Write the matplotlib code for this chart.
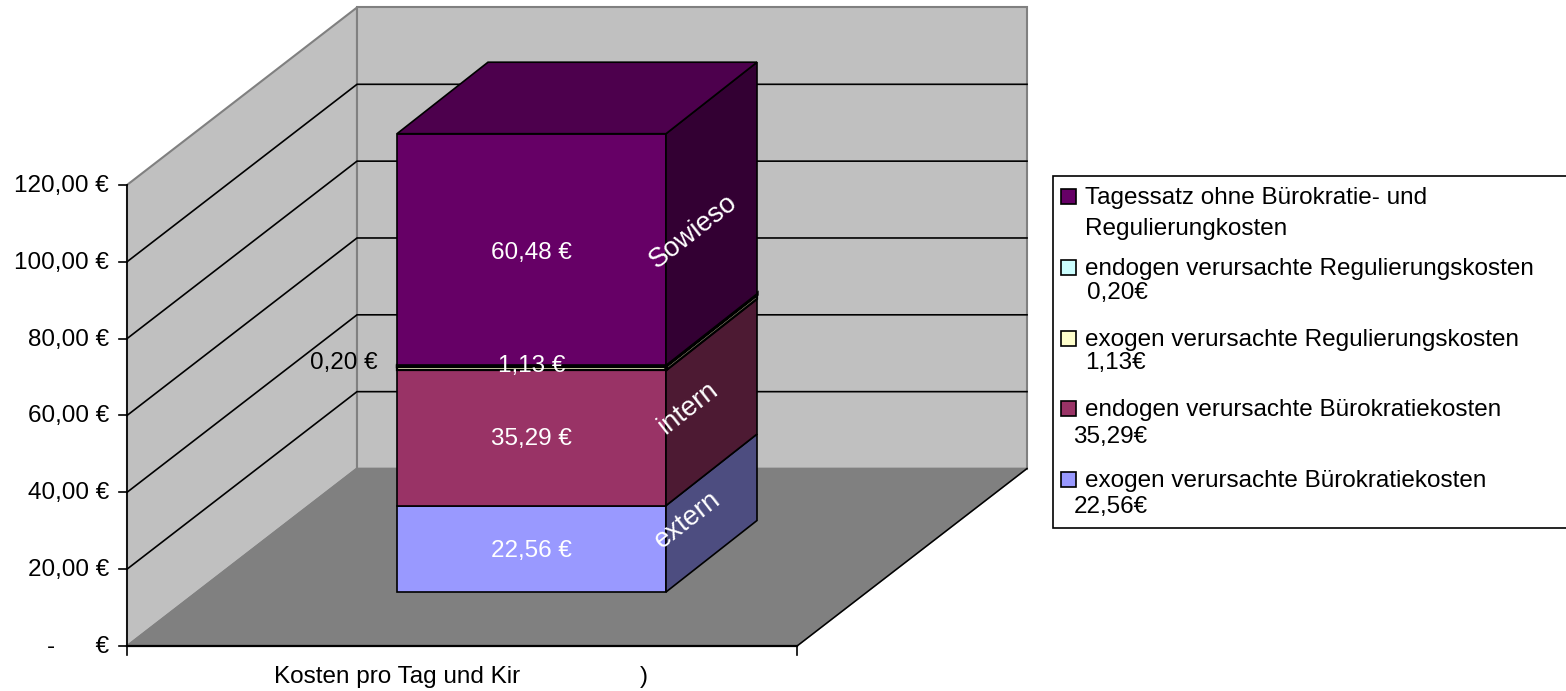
import matplotlib
matplotlib.use("Agg")
import matplotlib.pyplot as plt
from matplotlib.patches import Polygon, Rectangle

plt.rcParams['font.family'] = ['Liberation Sans', 'DejaVu Sans']

# data
values = [22.56, 35.29, 1.13, 0.20, 60.48]
value_labels = ['22,56 €', '35,29 €', '1,13 €', '0,20 €', '60,48 €']
front_colors = ['#9999FF', '#993366', '#FFFFCC', '#CCFFFF', '#660066']
side_colors = ['#4D4D80', '#4D1A33', '#808066', '#668080', '#330033']
top_color = '#4D004D'
ticks = [0, 20, 40, 60, 80, 100, 120]
tick_labels = ['-      €', '20,00 €', '40,00 €', '60,00 €', '80,00 €', '100,00 €', '120,00 €']
side_labels = ['extern', 'intern', 'Sowieso']
legend_colors = ['#660066', '#CCFFFF', '#FFFFCC', '#993366', '#9999FF']

W, H = 1566, 691
fig = plt.figure(figsize=(W / 100, H / 100), dpi=100)
ax = fig.add_axes([0, 0, 1, 1])
ax.set_xlim(0, W)
ax.set_ylim(H, 0)
ax.axis('off')

FS = 17.5
X0, X1 = 127, 797
Y0 = 646
SCALE = 3.842   # px per euro, walls
BSCALE = 3.83   # px per euro, bar
DX, DY = 230, -177.5  # depth of the box
BX0, BX1, BY = 397, 666, 592  # bar front
BDX, BDY = 91, -71.5  # bar depth


def vy(v):
    return Y0 - v * SCALE


def by(v):
    return BY - v * BSCALE


def poly(pts, fc, ec='black', lw=1.2, z=2):
    ax.add_patch(Polygon(pts, closed=True, fc=fc, ec=ec, lw=lw, zorder=z))


# walls and floor
ytop = vy(ticks[-1])
poly([(X0, ytop), (X0 + DX, ytop + DY), (X0 + DX, Y0 + DY), (X0, Y0)], '#C0C0C0', '#808080', lw=1.5)
poly([(X0 + DX, ytop + DY), (X1 + DX, ytop + DY), (X1 + DX, Y0 + DY), (X0 + DX, Y0 + DY)], '#C0C0C0', '#808080', lw=1.5)
poly([(X0, Y0), (X1, Y0), (X1 + DX, Y0 + DY), (X0 + DX, Y0 + DY)], '#808080', '#808080')

# gridlines, the top one is only the grey wall edge
for t in ticks[1:-1]:
    y = vy(t)
    ax.plot([X0, X0 + DX, X1 + DX], [y, y + DY, y + DY], color='black', lw=1.2, zorder=3, solid_joinstyle='miter')

# axes
ax.plot([X0, X0], [vy(ticks[-1]), Y0], color='black', lw=1.2, zorder=3)
ax.plot([X0, X1], [Y0, Y0], color='black', lw=1.6, zorder=3)
ax.plot([X1, X1 + DX], [Y0, Y0 + DY], color='black', lw=1.1, zorder=3)
for t, lab in zip(ticks, tick_labels):
    ax.plot([X0 - 8, X0], [vy(t), vy(t)], color='black', lw=1.2, zorder=3)
    ax.text(X0 - 18, vy(t) + 1, lab, ha='right', va='center', fontsize=FS, zorder=6)
for x in (X0, X1):
    ax.plot([x, x], [Y0, Y0 + 9], color='black', lw=1.2, zorder=3)

# stacked bar, the two thin layers mostly show their black outlines
bar_lw = [1.2, 1.2, 1.6, 2.4, 1.2]
bottom = 0
for v, fc, sc, lw in zip(values, front_colors, side_colors, bar_lw):
    top = bottom + v
    poly([(BX0, by(bottom)), (BX1, by(bottom)), (BX1, by(top)), (BX0, by(top))], fc, lw=lw, z=4)
    poly([(BX1, by(bottom)), (BX1 + BDX, by(bottom) + BDY), (BX1 + BDX, by(top) + BDY), (BX1, by(top))], sc, lw=lw, z=4)
    bottom = top
poly([(BX0, by(bottom)), (BX1, by(bottom)), (BX1 + BDX, by(bottom) + BDY), (BX0 + BDX, by(bottom) + BDY)], top_color, z=4)

# value labels
BMID = (BX0 + BX1) / 2
cum = 0
mids = []
for v in values:
    mids.append(cum + v / 2)
    cum += v
ax.text(BMID, by(mids[0]) + 2, value_labels[0], color='white', ha='center', va='center', fontsize=FS, zorder=6)
ax.text(BMID, by(mids[1]) + 1, value_labels[1], color='white', ha='center', va='center', fontsize=FS, zorder=6)
ax.text(BMID, by(mids[2]) - 2, value_labels[2], color='white', ha='center', va='center', fontsize=FS, zorder=6)
ax.text(344, by(mids[3]) - 3, value_labels[3], color='black', ha='center', va='center', fontsize=FS, zorder=6)
ax.text(BMID, by(mids[4]) + 3, value_labels[4], color='white', ha='center', va='center', fontsize=FS, zorder=6)

# labels on the side of the bar
side_mids = [mids[0], mids[1], mids[4]]
side_pos = [(688, -29), (688, -30), (693, -18)]
for lab, m, (sx, o) in zip(side_labels, side_mids, side_pos):
    ax.text(sx, by(m) + o, lab, color='white', ha='center', va='center', fontsize=19.8,
            rotation=38, rotation_mode='anchor', zorder=6)

# category label, partly covered in the source
ax.text(274, 677, 'Kosten pro Tag und Kir', ha='left', va='center', fontsize=FS, zorder=6)
ax.text(644, 677, ')', ha='center', va='center', fontsize=FS, zorder=6)

# legend box, runs off the right edge
ax.add_patch(Rectangle((1053, 176), 530, 352, fc='white', ec='black', lw=1.2, zorder=5, clip_on=True))
legend_rows = [
    (197, 'Tagessatz ohne Bürokratie- und', 1085, 'Regulierungkosten', 229),
    (268, 'endogen verursachte Regulierungskosten', 1087, '0,20€', 293),
    (339, 'exogen verursachte Regulierungskosten', 1085, '1,13€', 363),
    (409, 'endogen verursachte Bürokratiekosten', 1073, '35,29€', 437),
    (480, 'exogen verursachte Bürokratiekosten', 1074, '22,56€', 507),
]
for (y, line1, x2, line2, y2), c in zip(legend_rows, legend_colors):
    ax.add_patch(Rectangle((1061, y - 8), 15, 15, fc=c, ec='black', lw=1.2, zorder=6))
    ax.text(1085, y + 1, line1, ha='left', va='center', fontsize=FS, zorder=6)
    ax.text(x2, y2, line2, ha='left', va='center', fontsize=FS, zorder=6)

fig.savefig('out.png', dpi=100, facecolor='white')
